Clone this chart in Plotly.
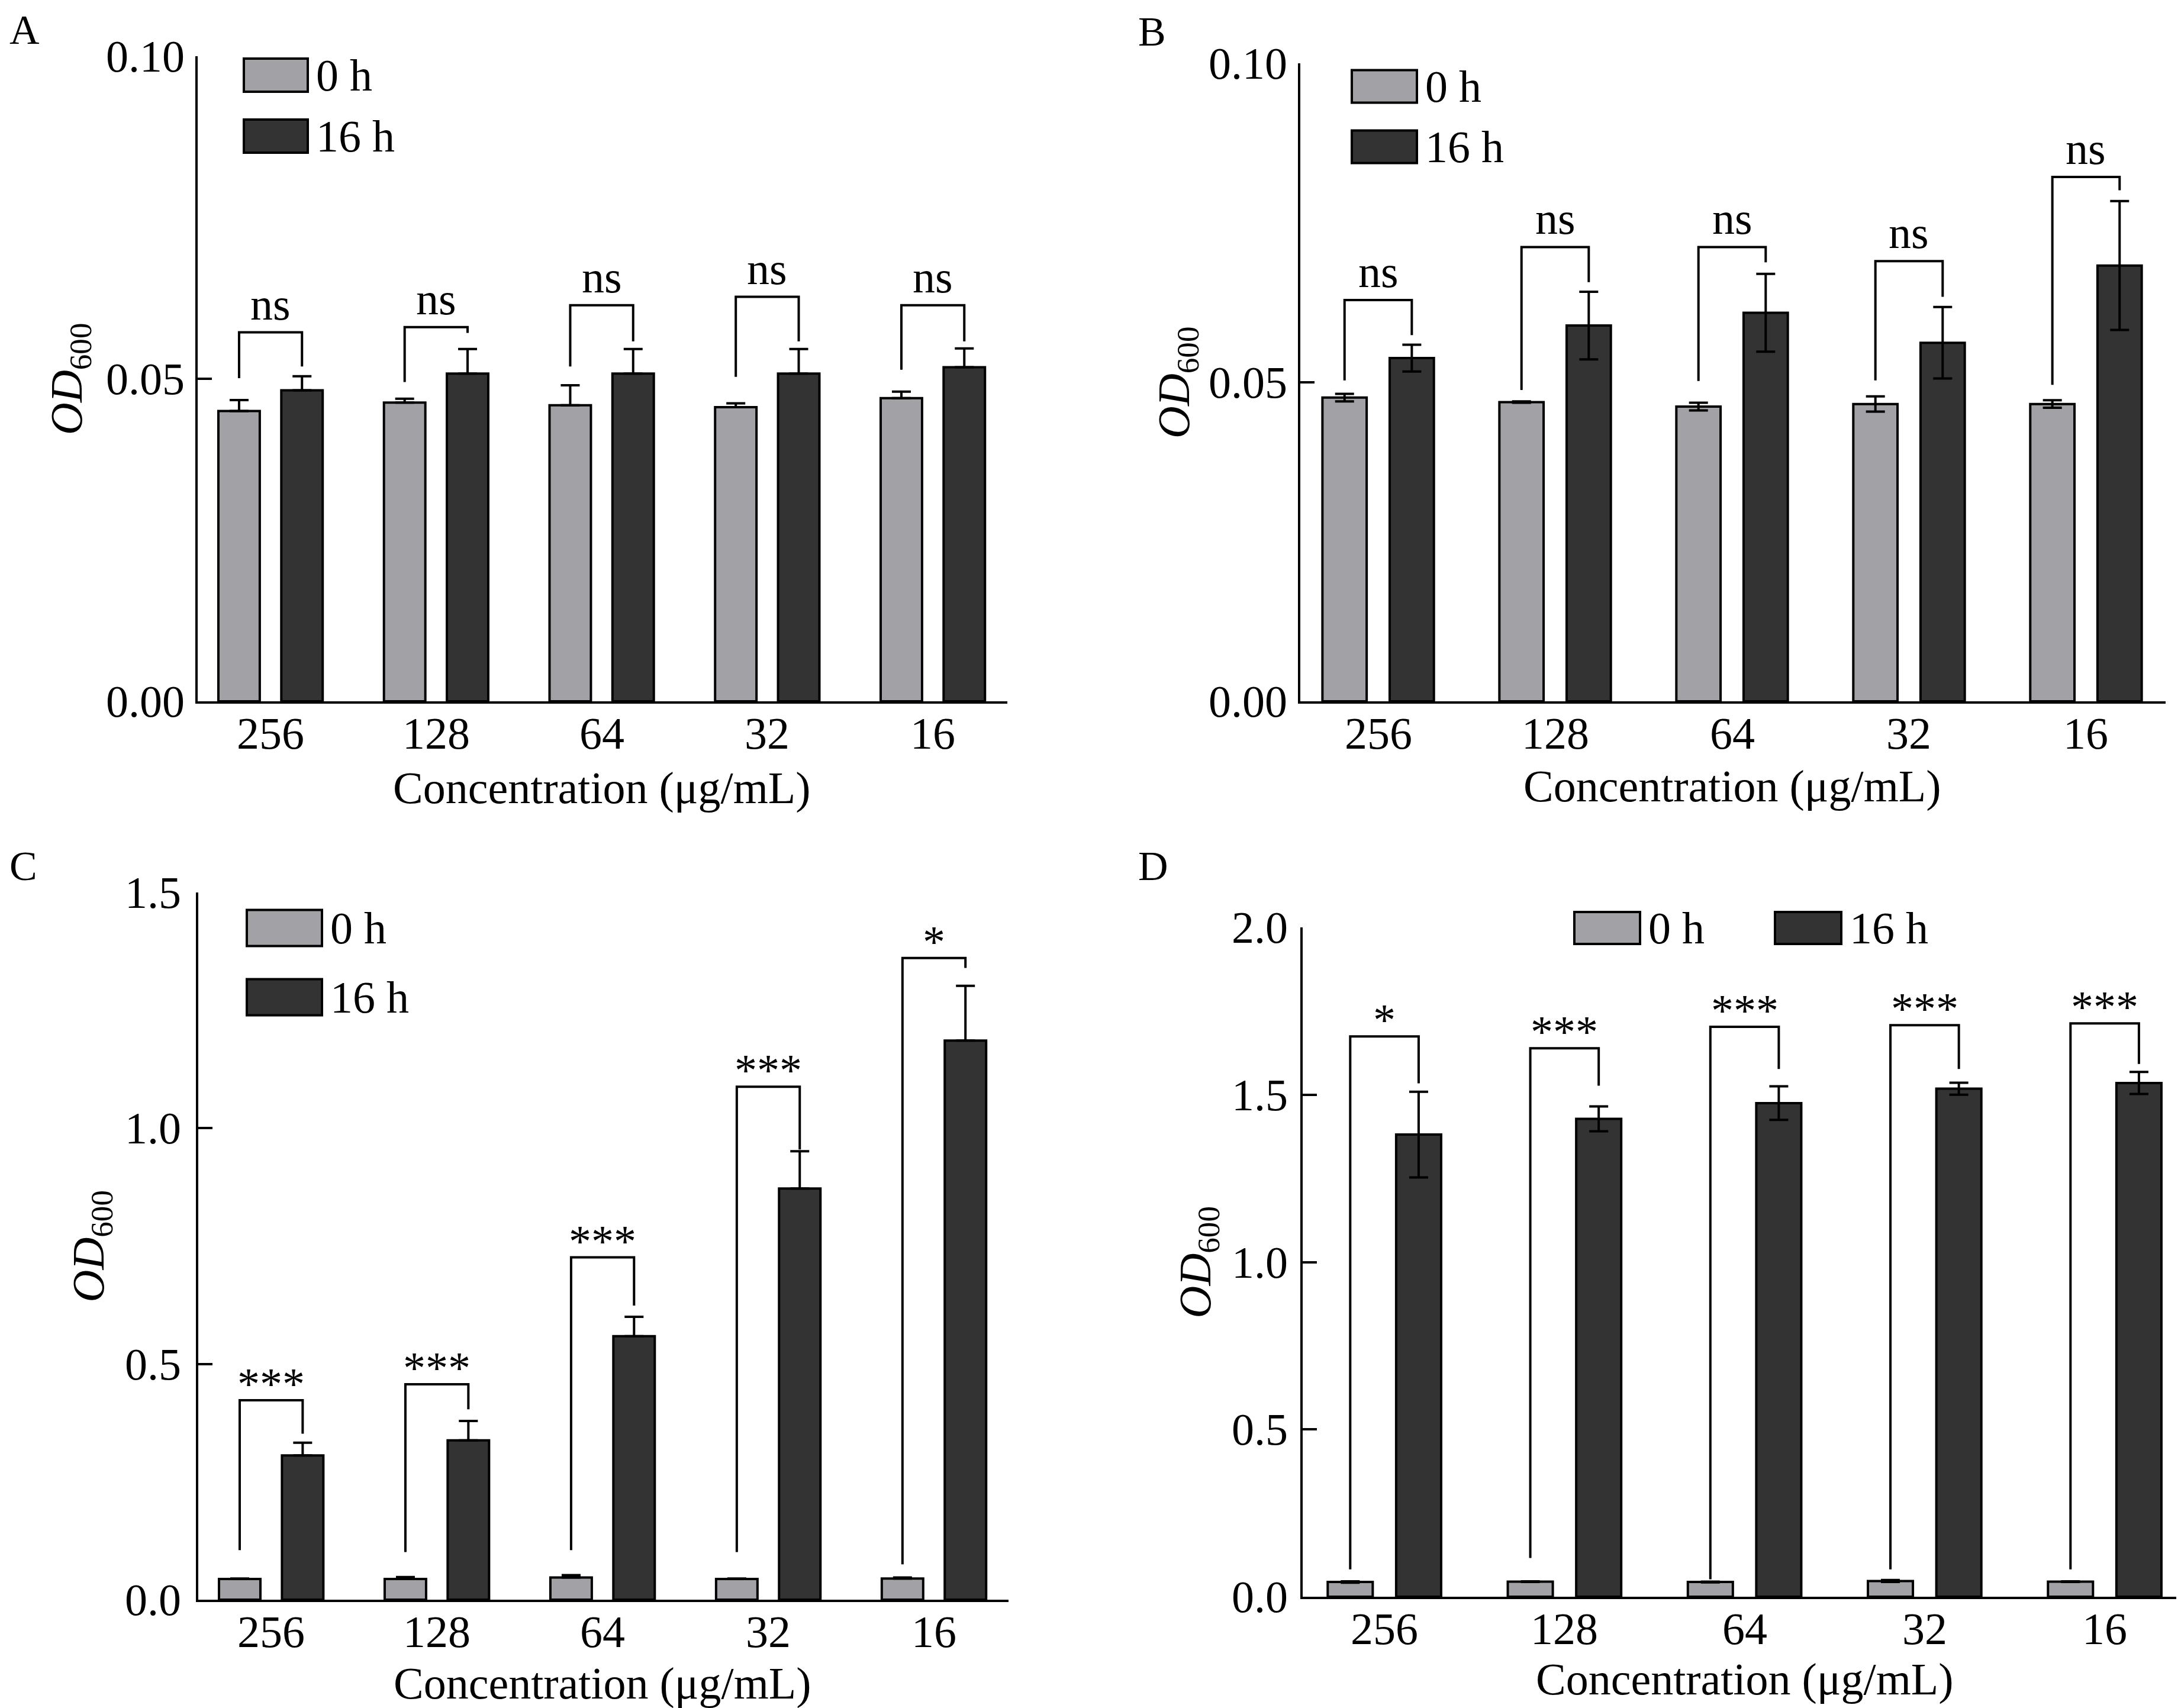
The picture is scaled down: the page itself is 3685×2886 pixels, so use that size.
import plotly.graph_objects as go

W, H = 3685, 2886

conc = ["256", "128", "64", "32", "16"]
groups = ["0 h", "16 h"]

# panel A
a_0h = [0.0450, 0.0463, 0.0459, 0.0456, 0.0470]
a_0h_err = [0.0017, 0.0006, 0.0031, 0.0006, 0.0010]
a_16h = [0.0482, 0.0508, 0.0508, 0.0508, 0.0518]
a_16h_err = [0.0022, 0.0038, 0.0038, 0.0038, 0.0029]
a_sig = ["ns", "ns", "ns", "ns", "ns"]
a_br_top = [0.0572, 0.0580, 0.0614, 0.0627, 0.0614]
a_br_left = [0.0501, 0.0495, 0.0519, 0.0503, 0.0514]
a_br_right = [0.0519, 0.0571, 0.0558, 0.0558, 0.0558]

# panel B
b_0h = [0.0476, 0.0469, 0.0462, 0.0466, 0.0466]
b_0h_err = [0.0006, 0.0001, 0.0006, 0.0012, 0.0006]
b_16h = [0.0538, 0.0589, 0.0609, 0.0562, 0.0683]
b_16h_err = [0.0021, 0.0053, 0.0061, 0.0056, 0.0101]
b_sig = ["ns", "ns", "ns", "ns", "ns"]
b_br_top = [0.0629, 0.0712, 0.0712, 0.0690, 0.0822]
b_br_left = [0.0503, 0.0488, 0.0502, 0.0503, 0.0496]
b_br_right = [0.0574, 0.0657, 0.0688, 0.0634, 0.0801]

# panel C
c_0h = [0.044, 0.044, 0.047, 0.044, 0.045]
c_0h_err = [0.001, 0.004, 0.005, 0.001, 0.002]
c_16h = [0.306, 0.338, 0.559, 0.872, 1.186]
c_16h_err = [0.027, 0.041, 0.041, 0.079, 0.116]
c_sig = ["***", "***", "***", "***", "*"]
c_br_top = [0.423, 0.457, 0.726, 1.088, 1.361]
c_br_left = [0.105, 0.101, 0.105, 0.101, 0.075]
c_br_right = [0.352, 0.404, 0.624, 0.955, 1.340]

# panel D
d_0h = [0.044, 0.045, 0.044, 0.047, 0.045]
d_0h_err = [0.002, 0.001, 0.001, 0.003, 0.001]
d_16h = [1.381, 1.428, 1.475, 1.518, 1.535]
d_16h_err = [0.128, 0.037, 0.050, 0.018, 0.033]
d_sig = ["*", "***", "***", "***", "***"]
d_br_top = [1.674, 1.639, 1.703, 1.708, 1.713]
d_br_left = [0.082, 0.116, 0.052, 0.082, 0.082]
d_br_right = [1.534, 1.527, 1.577, 1.577, 1.592]

FONT = "Liberation Serif"
FS = 76
C0 = "#a2a2a6"
C16 = "#333333"
BW = 0.25
OFF = 0.19

panels = [
    dict(name="A", box=(326, 87, 1694, 1177), yr=0.10, yt=[0, 0.05, 0.10], ytt=["0.00", "0.05", "0.10"],
         v0=a_0h, e0=a_0h_err, v16=a_16h, e16=a_16h_err, both=False,
         sig=a_sig, top=a_br_top, left=a_br_left, right=a_br_right,
         letter=(6, 42), title_dx=216, ygap=20, xt_dy=146, legend="v", leg=(404, 512, 119, 222, 56)),
    dict(name="B", box=(2189, 99, 3651, 1177), yr=0.10, yt=[0, 0.05, 0.10], ytt=["0.00", "0.05", "0.10"],
         v0=b_0h, e0=b_0h_err, v16=b_16h, e16=b_16h_err, both=True,
         sig=b_sig, top=b_br_top, left=b_br_left, right=b_br_right,
         letter=(1913, 45), title_dx=208, ygap=20, xt_dy=143, legend="v", leg=(2276, 2386, 138, 240, 55)),
    dict(name="C", box=(327, 1500, 1696, 2695), yr=1.5, yt=[0, 0.5, 1.0, 1.5], ytt=["0.0", "0.5", "1.0", "1.5"],
         v0=c_0h, e0=c_0h_err, v16=c_16h, e16=c_16h_err, both=False,
         sig=c_sig, top=c_br_top, left=c_br_left, right=c_br_right,
         letter=(6, 1455), title_dx=181, ygap=27, xt_dy=141, legend="v", leg=(409, 536, 1560, 1677, 61)),
    dict(name="D", box=(2193, 1559, 3685, 2690), yr=2.0, yt=[0, 0.5, 1.0, 1.5, 2.0], ytt=["0.0", "0.5", "1.0", "1.5", "2.0"],
         v0=d_0h, e0=d_0h_err, v16=d_16h, e16=d_16h_err, both=True,
         sig=d_sig, top=d_br_top, left=d_br_left, right=d_br_right,
         letter=(1913, 1455), title_dx=177, ygap=23, xt_dy=139, legend="h", leg=(2652, 2763, 2991, 3103, 1560, 54)),
]

fig = go.Figure()
annotations = []
shapes = []
idx = list(range(len(conc)))


def txt(**kw):
    kw.setdefault("showarrow", False)
    kw.setdefault("font", dict(family=FONT, size=FS, color="black"))
    annotations.append(kw)


for k, p in enumerate(panels):
    n = "" if k == 0 else str(k + 1)
    xa, ya = "x" + n, "y" + n
    x0, y0, x1, y1 = p["box"]
    xlo = -0.44 if p["name"] != "D" else -0.454
    xhi = 4.45

    for vals, errs, col, off in [(p["v0"], p["e0"], C0, -OFF), (p["v16"], p["e16"], C16, OFF)]:
        fig.add_trace(go.Bar(
            x=idx, y=vals, width=BW, offset=off - BW / 2,
            marker=dict(color=col, line=dict(color="black", width=4)),
            error_y=dict(type="data", array=errs,
                         arrayminus=errs if p["both"] else [0] * len(errs),
                         symmetric=False, color="black", thickness=4, width=16),
            xaxis=xa, yaxis=ya, showlegend=False, hoverinfo="skip",
        ))

    # significance brackets
    for i in idx:
        fig.add_trace(go.Scatter(
            x=[i - OFF, i - OFF, i + OFF, i + OFF],
            y=[p["left"][i], p["top"][i], p["top"][i], p["right"][i]],
            mode="lines", line=dict(color="black", width=4),
            xaxis=xa, yaxis=ya, showlegend=False, hoverinfo="skip",
        ))
        star = "*" in p["sig"][i]
        txt(x=i, y=p["top"][i], xref=xa, yref=ya, text=p["sig"][i],
            yanchor="bottom", yshift=-16 if star else 4)

    fig.update_layout(**{
        "xaxis" + n: dict(
            domain=[x0 / W, x1 / W], range=[xlo, xhi], anchor=ya,
            showticklabels=False, ticks="", showline=True, linewidth=4,
            linecolor="black", showgrid=False, zeroline=False,
        ),
        "yaxis" + n: dict(
            domain=[1 - y1 / H, 1 - y0 / H], range=[0, p["yr"]], anchor=xa,
            tickvals=p["yt"], showticklabels=False, ticks="inside", ticklen=24, tickwidth=4,
            tickcolor="black", showline=True, linewidth=4, linecolor="black",
            showgrid=False, zeroline=False,
        ),
    })

    # tick labels
    for i, lab in enumerate(conc):
        txt(x=i, y=1 - (y1 + 54) / H, xref=xa, yref="paper", text=lab,
            xanchor="center", yanchor="middle")
    for v, lab in zip(p["yt"], p["ytt"]):
        txt(x=(x0 - p["ygap"]) / W, y=v, xref="paper", yref=ya, text=lab,
            xanchor="right", yanchor="middle")

    # axis titles
    txt(x=(x0 - p["title_dx"]) / W, y=1 - (y0 + y1) / 2 / H, xref="paper", yref="paper",
        text="<i>OD</i><sub>600</sub>", textangle=-90, xanchor="center", yanchor="middle")
    txt(x=2, y=1 - (y1 + p["xt_dy"]) / H, xref=xa, yref="paper",
        text="Concentration (μg/mL)", xanchor="center", yanchor="middle")
    # panel letter
    lx, ly = p["letter"]
    txt(x=lx / W, y=1 - ly / H, xref="paper", yref="paper", text=p["name"],
        xanchor="left", yanchor="middle", font=dict(family=FONT, size=70, color="black"))

    # legend swatches
    if p["legend"] == "v":
        bx0, bx1, r0, r1, bh = p["leg"]
        rows = [(bx0, bx1, r0, C0, groups[0]), (bx0, bx1, r1, C16, groups[1])]
    else:
        ax0, ax1, cx0, cx1, r, bh = p["leg"]
        rows = [(ax0, ax1, r, C0, groups[0]), (cx0, cx1, r, C16, groups[1])]
    for bx0, bx1, ry, col, lab in rows:
        shapes.append(dict(
            type="rect", xref="paper", yref="paper",
            x0=bx0 / W, x1=bx1 / W, y0=1 - (ry + bh / 2) / H, y1=1 - (ry - bh / 2) / H,
            fillcolor=col, line=dict(color="black", width=4),
        ))
        txt(x=(bx1 + 12) / W, y=1 - ry / H, xref="paper", yref="paper", text=lab,
            xanchor="left", yanchor="middle")

fig.update_layout(
    width=W, height=H,
    margin=dict(l=0, r=0, t=0, b=0),
    paper_bgcolor="white", plot_bgcolor="white",
    barmode="overlay",
    annotations=annotations, shapes=shapes,
    showlegend=False,
)

fig.write_html("out.html")
